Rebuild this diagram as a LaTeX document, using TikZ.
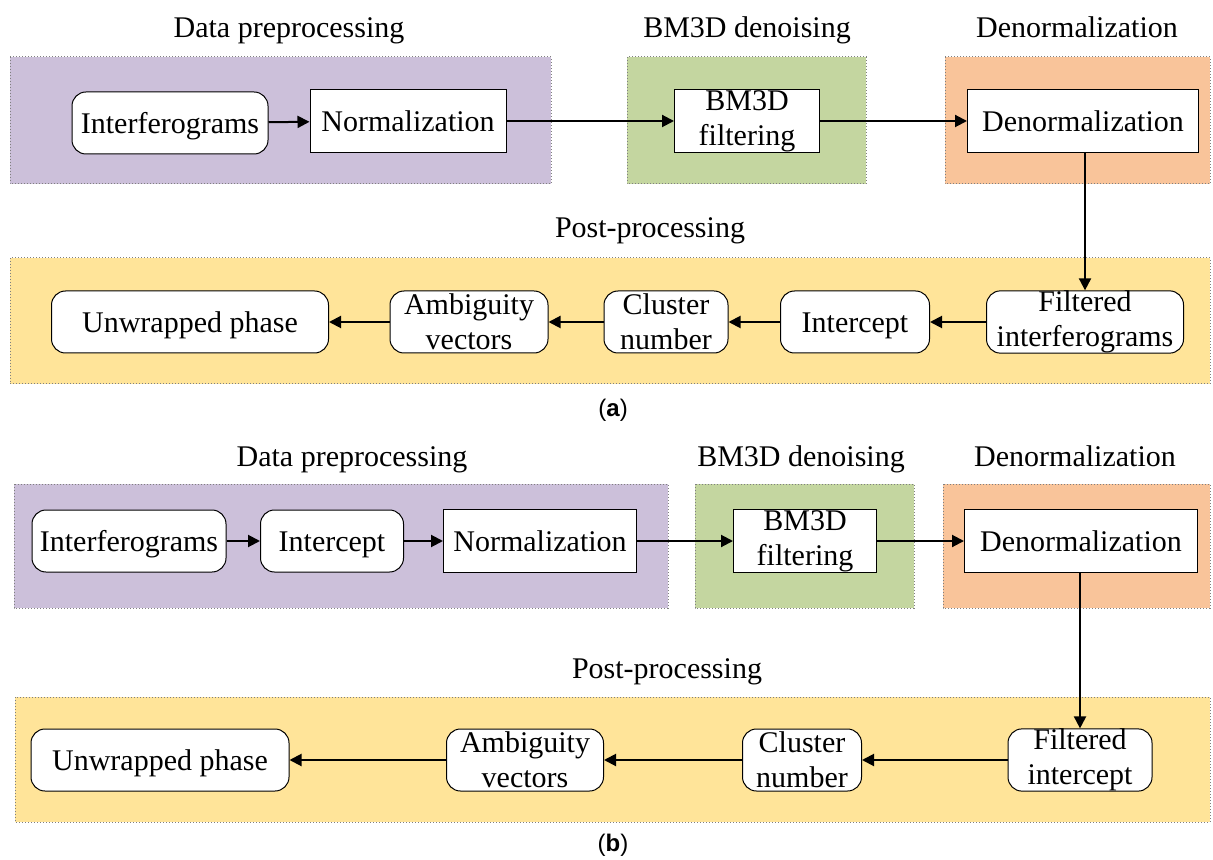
\documentclass[tikz,border=0pt]{standalone}
\usepackage{fontspec}
\setmainfont{Liberation Serif}
\newfontfamily\capfont{Liberation Sans}
\usetikzlibrary{arrows.meta}

\definecolor{prepurple}{RGB}{204,192,218}
\definecolor{bmgreen}{RGB}{196,214,160}
\definecolor{denorange}{RGB}{249,196,154}
\definecolor{postyellow}{RGB}{255,228,153}

\tikzset{
    panel/.style={draw=gray, densely dotted, line width=0.5pt},
    roundbox/.style={draw, fill=white, rounded corners=7pt, line width=0.5pt, align=center, inner sep=0pt, minimum height=31pt},
    sqbox/.style={draw, fill=white, line width=0.5pt, align=center, inner sep=0pt, minimum height=31.5pt},
    oneline/.style={text height=12pt, text depth=1.5pt},
    arr/.style={-{Triangle[length=6pt,width=6pt]}, line width=1pt},
    heading/.style={inner sep=0pt, anchor=base}
}

\begin{document}
\begin{tikzpicture}[x=0.5pt, y=-0.5pt, font=\fontsize{15}{17.5}\selectfont]
    \useasboundingbox (0,0) rectangle (1213,860);

    %% (a) panels
    \path[panel, fill=prepurple]  (10,57)  rectangle (551,184);
    \path[panel, fill=bmgreen]    (627,57) rectangle (866,184);
    \path[panel, fill=denorange]  (945,57) rectangle (1210,184);
    \path[panel, fill=postyellow] (10,258) rectangle (1210,384);

    \node[heading] (hprepA) at (289,38)  {Data preprocessing};
    \node[heading] (hbmA)   at (747,38)  {BM3D denoising};
    \node[heading] (hdenA)  at (1077,38) {Denormalization};
    \node[heading] (hpostA) at (650,238) {Post-processing};

    %% (a) steps
    \node[roundbox, oneline, minimum width=98pt]   (intA)  at (170,123)  {Interferograms};
    \node[sqbox,    oneline, minimum width=98pt]   (normA) at (408,121)  {Normalization};
    \node[sqbox,    minimum width=72.5pt]          (bmA)   at (747,121)  {BM3D\\filtering};
    \node[sqbox,    oneline, minimum width=115.5pt](denA)  at (1083,121) {Denormalization};

    \node[roundbox, minimum width=98.5pt]          (filtA) at (1085,322) {Filtered\\interferograms};
    \node[roundbox, oneline, minimum width=74.5pt] (icpA)  at (855,322)  {Intercept};
    \node[roundbox, minimum width=62pt]            (cluA)  at (666,322)  {Cluster\\number};
    \node[roundbox, minimum width=79pt]            (ambA)  at (469,322)  {Ambiguity\\vectors};
    \node[roundbox, oneline, minimum width=138.5pt](unwA)  at (190,322)  {Unwrapped phase};

    \draw[arr] (intA)  -- (normA);
    \draw[arr] (normA) -- (bmA);
    \draw[arr] (bmA)   -- (denA);
    \draw[arr] (filtA.north |- denA.south) -- (filtA.north);
    \draw[arr] (filtA) -- (icpA);
    \draw[arr] (icpA)  -- (cluA);
    \draw[arr] (cluA)  -- (ambA);
    \draw[arr] (ambA)  -- (unwA);

    \node[inner sep=0pt, font=\capfont\fontsize{12}{14}\selectfont] (capA) at (613,410) {(\textbf{a})};

    %% (b) panels
    \path[panel, fill=prepurple]  (14,484)  rectangle (668,608);
    \path[panel, fill=bmgreen]    (695,484) rectangle (914,608);
    \path[panel, fill=denorange]  (943,484) rectangle (1210,608);
    \path[panel, fill=postyellow] (15,697)  rectangle (1210,822);

    \node[heading] (hprepB) at (352,466)  {Data preprocessing};
    \node[heading] (hbmB)   at (801,466)  {BM3D denoising};
    \node[heading] (hdenB)  at (1075,466) {Denormalization};
    \node[heading] (hpostB) at (667,678)  {Post-processing};

    %% (b) steps
    \node[roundbox, oneline, minimum width=97pt]   (intB)  at (129,541)  {Interferograms};
    \node[roundbox, oneline, minimum width=71.5pt] (icpB)  at (332,541)  {Intercept};
    \node[sqbox,    oneline, minimum width=96.5pt] (normB) at (540,541)  {Normalization};
    \node[sqbox,    minimum width=71.5pt]          (bmB)   at (805,541)  {BM3D\\filtering};
    \node[sqbox,    oneline, minimum width=116.5pt](denB)  at (1081,541) {Denormalization};

    \node[roundbox, minimum width=72pt]            (filtB) at (1080,760) {Filtered\\intercept};
    \node[roundbox, minimum width=59.5pt]          (cluB)  at (802,760)  {Cluster\\number};
    \node[roundbox, minimum width=78.5pt]          (ambB)  at (525,760)  {Ambiguity\\vectors};
    \node[roundbox, oneline, minimum width=129pt]  (unwB)  at (160,760)  {Unwrapped phase};

    \draw[arr] (intB)  -- (icpB);
    \draw[arr] (icpB)  -- (normB);
    \draw[arr] (normB) -- (bmB);
    \draw[arr] (bmB)   -- (denB);
    \draw[arr] (filtB.north |- denB.south) -- (filtB.north);
    \draw[arr] (filtB) -- (cluB);
    \draw[arr] (cluB)  -- (ambB);
    \draw[arr] (ambB)  -- (unwB);

    \node[inner sep=0pt, font=\capfont\fontsize{12}{14}\selectfont] (capB) at (613,845) {(\textbf{b})};
\end{tikzpicture}
\end{document}
